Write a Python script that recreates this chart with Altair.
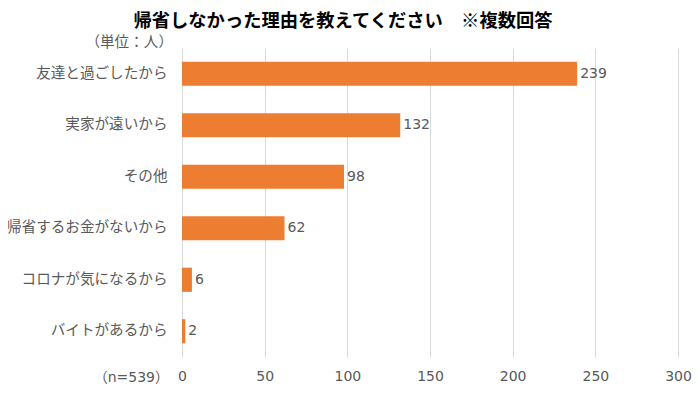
import altair as alt
import pandas as pd

categories = ["友達と過ごしたから", "実家が遠いから", "その他", "帰省するお金がないから", "コロナが気になるから", "バイトがあるから"]
values = [239, 132, 98, 62, 6, 2]
x_ticks = [0, 50, 100, 150, 200, 250, 300]
title_text = "帰省しなかった理由を教えてください　※複数回答"
unit_text = "（単位：人）"
n_text = "（n=539）"

df = pd.DataFrame({"reason": categories, "count": values})

FONT = "DejaVu Sans, Noto Sans CJK JP"
CJK = "Noto Sans CJK JP"

y_enc = alt.Y("reason:N", sort=categories,
              scale=alt.Scale(paddingInner=0.53, paddingOuter=0.265),
              axis=alt.Axis(title=None, domain=False, ticks=False, labelPadding=15,
                            labelFont=CJK, labelFontSize=14.6, labelColor="#595959", grid=False))
x_enc = alt.X("count:Q", scale=alt.Scale(domain=[0, 300], nice=False),
              axis=alt.Axis(title=None, values=x_ticks, domain=False, ticks=False,
                            labelPadding=12, labelFont=FONT, labelFontSize=14,
                            labelFlush=False,
                            labelColor="#595959", grid=True, gridColor="#d9d9d9"))

base = alt.Chart(df)
bars = base.mark_bar(color="#ED7D31").encode(x=x_enc, y=y_enc)
labels = base.mark_text(align="left", baseline="middle", dx=3, font=FONT,
                        fontSize=14, color="#595959").encode(
    x="count:Q", y=alt.Y("reason:N", sort=categories), text="count:Q")

unit = alt.Chart(pd.DataFrame({"t": [unit_text]})).mark_text(
    align="right", baseline="middle", font=CJK, fontSize=14.6, color="#595959").encode(
    x=alt.value(-9), y=alt.value(-5), text="t:N")
ntext = alt.Chart(pd.DataFrame({"t": [n_text]})).mark_text(
    align="right", baseline="middle", font=FONT, fontSize=14, color="#595959").encode(
    x=alt.value(-13), y=alt.value(330), text="t:N")

chart = alt.layer(bars, labels, unit, ntext).properties(
    width=496, height=309,
    padding={"left": 174, "top": 40, "right": 14, "bottom": 28},
    autosize=alt.AutoSizeParams(type="none"),
    title=alt.TitleParams(title_text, font=CJK, fontSize=18.3, fontWeight="bold",
                          color="#000000", anchor="middle", dx=-87, offset=4,
                          frame="group"),
).configure_view(stroke=None)

chart.save("out.html", embed_options={"renderer": "svg", "actions": False})
